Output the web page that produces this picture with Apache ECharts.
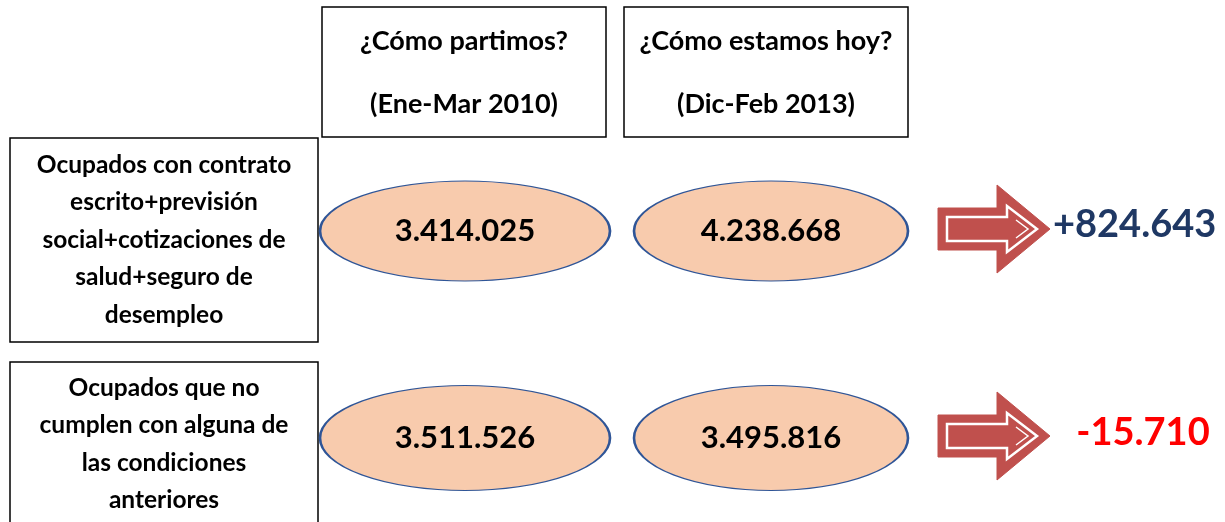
<!DOCTYPE html>
<html>
<head>
<meta charset="utf-8">
<script src="https://cdn.jsdelivr.net/npm/echarts@6/dist/echarts.min.js"></script>
<style>
html,body{margin:0;padding:0;background:#fff;}
#chart{width:1225px;height:522px;}
</style>
</head>
<body>
<div id="chart"></div>
<script>
// ---- data ----
const periodTitles = ['¿Cómo partimos?', '¿Cómo estamos hoy?'];
const periodRanges = ['(Ene-Mar 2010)', '(Dic-Feb 2013)'];
const rowLabels = [
  'Ocupados con contrato\nescrito+previsión\nsocial+cotizaciones de\nsalud+seguro de\ndesempleo',
  'Ocupados que no\ncumplen con alguna de\nlas condiciones\nanteriores'
];
const values2010 = [3414025, 3511526];
const values2013 = [4238668, 3495816];
const changes = [824643, -15710];

// ---- helpers ----
const FONT = 'Lato, "Open Sans", sans-serif';
function fmt(n) {
  const s = Math.abs(n).toString().replace(/\B(?=(\d{3})+(?!\d))/g, '.');
  return (n < 0 ? '-' : '') + s;
}
function fmtSigned(n) { return (n > 0 ? '+' : '') + fmt(n); }

const chart = echarts.init(document.getElementById('chart'), null, {renderer: 'canvas'});

const ellipseStyle = {
  color: '#f8cbad', borderColor: '#2f5597', borderWidth: 1.6, opacity: 1
};
const ellipseLabel = {
  show: true, position: 'inside', color: '#000', fontFamily: FONT,
  fontWeight: 'bold', fontSize: 31,
  formatter: p => fmt(p.value[2])
};

const option = {
  animation: false,
  backgroundColor: '#fff',
  grid: {left: 312, width: 612, top: 127.5, height: 414, containLabel: false, outerBoundsMode: 'none'},
  xAxis: {type: 'category', data: periodRanges, show: false, boundaryGap: true},
  yAxis: {type: 'category', data: rowLabels, show: false, inverse: true, boundaryGap: true},
  series: [
    // header boxes
    {
      type: 'custom', silent: true, z: 1,
      data: periodTitles.map((t, i) => [i, 0]),
      renderItem: function (params, api) {
        const i = api.value(0);
        const cx = api.coord([i, 0])[0] - [1, 5][i];
        const w = 284, top = 7, h = 130;
        return {
          type: 'group',
          children: [
            {type: 'rect', shape: {x: cx - w / 2, y: top, width: w, height: h},
             style: {fill: '#fff', stroke: '#000', lineWidth: 1.5}},
            {type: 'text', style: {x: cx, y: 41, text: periodTitles[i], align: 'center', verticalAlign: 'middle',
              font: 'bold 27px ' + FONT, fill: '#000'}},
            {type: 'text', style: {x: cx, y: 104, text: periodRanges[i], align: 'center', verticalAlign: 'middle',
              font: 'bold 27px ' + FONT, fill: '#000'}}
          ]
        };
      }
    },
    // row label boxes
    {
      type: 'custom', silent: true, z: 1,
      data: rowLabels.map((t, i) => [0, i]),
      renderItem: function (params, api) {
        const i = api.value(1);
        const cy = api.coord([0, i])[1];
        const top = cy + [-93, -76][i];
        const textY = cy + [9, 6][i];
        return {
          type: 'group',
          children: [
            {type: 'rect', shape: {x: 10, y: top, width: 308, height: 204},
             style: {fill: '#fff', stroke: '#000', lineWidth: 1.5}},
            {type: 'text', style: {x: 164, y: textY, text: rowLabels[i], align: 'center', verticalAlign: 'middle',
              font: 'bold 24.5px ' + FONT, lineHeight: 37.5, fill: '#000'}}
          ]
        };
      }
    },
    // ellipses 2010
    {
      type: 'scatter', name: periodRanges[0], symbol: 'circle',
      symbolSize: (v, p) => [290, p.dataIndex === 0 ? 100 : 105],
      data: values2010.map((v, i) => [0, i, v]),
      itemStyle: ellipseStyle, label: ellipseLabel, silent: true
    },
    // ellipses 2013
    {
      type: 'scatter', name: periodRanges[1], symbol: 'circle',
      symbolSize: (v, p) => [274, p.dataIndex === 0 ? 100 : 105],
      data: values2013.map((v, i) => [1, i, v]),
      itemStyle: ellipseStyle, label: ellipseLabel, silent: true
    },
    // arrows + change values
    {
      type: 'custom', silent: true, z: 3,
      data: changes.map((c, i) => [1, i, c]),
      renderItem: function (params, api) {
        const i = api.value(1);
        const c = api.value(2);
        const p = api.coord([1, i]);
        const x0 = p[0] + 167;
        const yc = p[1] - 2;
        const outer = [[0, -21], [59, -21], [59, -44], [112, 0], [59, 44], [59, 21], [0, 21]]
          .map(q => [x0 + q[0], yc + q[1]]);
        const inner = [[9, -12], [69, -12], [69, -23], [99, 0], [69, 23], [69, 12], [9, 12]]
          .map(q => [x0 + q[0], yc + q[1]]);
        const notch = [[78, -9], [90, 0], [78, 9]].map(q => [x0 + q[0], yc + q[1]]);
        const positive = c >= 0;
        return {
          type: 'group',
          children: [
            {type: 'polygon', shape: {points: outer}, style: {fill: '#c0504d', stroke: '#c0504d', lineWidth: 1}},
            {type: 'polygon', shape: {points: inner}, style: {fill: '#c0504d', stroke: '#ffffff', lineWidth: 2.5}},
            {type: 'polyline', shape: {points: notch}, style: {fill: null, stroke: '#ffffff', lineWidth: 1.5}},
            {type: 'text', style: {
              x: positive ? x0 + 115 : x0 + 205, y: positive ? yc - 4 : yc - 3,
              text: fmtSigned(c), align: positive ? 'left' : 'center', verticalAlign: 'middle',
              font: 'bold 38px ' + FONT, fill: positive ? '#1f3864' : '#ff0000'}}
          ]
        };
      }
    }
  ]
};
chart.setOption(option);
</script>
</body>
</html>
